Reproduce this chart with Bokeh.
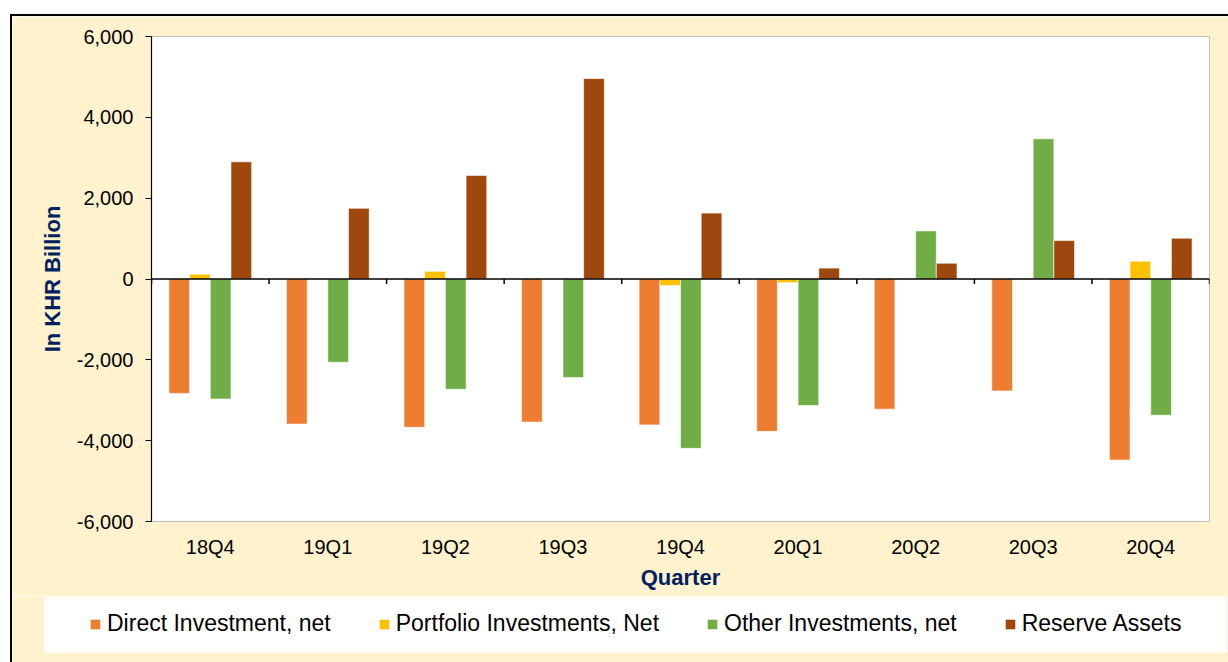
from bokeh.plotting import figure
from bokeh.layouts import column
from bokeh.models import Range1d, FixedTicker, Span, Legend, LegendItem, NumeralTickFormatter
from bokeh.embed import file_html
from bokeh.resources import INLINE

quarters = ["18Q4", "19Q1", "19Q2", "19Q3", "19Q4", "20Q1", "20Q2", "20Q3", "20Q4"]
direct = [-2830, -3590, -3670, -3540, -3610, -3770, -3220, -2770, -4480]
portfolio = [120, 20, 190, 0, -160, -90, 10, 10, 440]
other = [-2970, -2060, -2730, -2440, -4190, -3130, 1190, 3470, -3370]
reserve = [2900, 1750, 2560, 4960, 1630, 270, 390, 950, 1010]

series_names = ["Direct Investment, net", "Portfolio Investments, Net",
                "Other Investments, net", "Reserve Assets"]
series_values = [direct, portfolio, other, reserve]
colors = ["#ED7D31", "#FFC000", "#70AD47", "#9E480E"]

FONT = "Liberation Sans"
NAVY = "#002060"
BEIGE = "#FFF2CC"

p = figure(width=1216, height=580,
           x_range=Range1d(0, len(quarters)), y_range=Range1d(-6000, 6000),
           output_backend="svg", toolbar_location=None,
           min_border_left=139, min_border_right=19,
           min_border_top=20, min_border_bottom=75,
           background_fill_color="white", border_fill_color=BEIGE,
           outline_line_color="#BFBFBF", outline_line_width=1)
p.grid.visible = False
p.frame_align = False

bw = 0.176
offsets = [-1.5 * bw, -0.5 * bw, 0.5 * bw, 1.5 * bw]
for name, vals, col, off in zip(series_names, series_values, colors, offsets):
    xs = [i + 0.5 + off for i in range(len(quarters))]
    p.vbar(x=xs, top=vals, bottom=0, width=bw, fill_color=col,
           line_color="white", line_width=0.6)

# zero axis line with category boundary ticks
p.add_layout(Span(location=0, dimension="width", line_color="black", line_width=1.5))
tick_len = 12000 / 485 * 5
bounds = list(range(len(quarters) + 1))
p.segment(x0=bounds, x1=bounds, y0=[0] * len(bounds), y1=[-tick_len] * len(bounds),
          line_color="black", line_width=1.5)

# y axis
ya = p.yaxis[0]
ya.ticker = FixedTicker(ticks=[-6000, -4000, -2000, 0, 2000, 4000, 6000])
ya.formatter = NumeralTickFormatter(format="0,0")
ya.axis_line_color = "black"
ya.axis_line_width = 1.2
ya.major_tick_line_color = "black"
ya.major_tick_out = 6
ya.major_tick_in = 0
ya.minor_tick_line_color = None
ya.major_label_text_font = FONT
ya.major_label_text_font_size = "20px"
ya.major_label_text_color = "black"
ya.major_label_standoff = 12
ya.axis_label = "In KHR Billion"
ya.axis_label_text_font = FONT
ya.axis_label_text_font_size = "22px"
ya.axis_label_text_font_style = "bold"
ya.axis_label_text_color = NAVY
ya.axis_label_standoff = 9

# x axis (labels only at bottom)
xa = p.xaxis[0]
xa.ticker = FixedTicker(ticks=[i + 0.5 for i in range(len(quarters))])
xa.major_label_overrides = {i + 0.5: q for i, q in enumerate(quarters)}
xa.axis_line_color = None
xa.major_tick_line_color = None
xa.minor_tick_line_color = None
xa.major_tick_out = 0
xa.major_tick_in = 0
xa.major_label_text_font = FONT
xa.major_label_text_font_size = "20px"
xa.major_label_text_color = "black"
xa.major_label_standoff = 14
xa.axis_label = "Quarter"
xa.axis_label_text_font = FONT
xa.axis_label_text_font_size = "22px"
xa.axis_label_text_font_style = "bold"
xa.axis_label_text_color = NAVY
xa.axis_label_standoff = 4

# legend strip (separate figure so it can sit outside the plot frame)
lg = figure(width=1216, height=66, x_range=Range1d(0, 1), y_range=Range1d(0, 1),
            output_backend="svg", toolbar_location=None,
            x_axis_type=None, y_axis_type=None,
            min_border_left=32, min_border_right=2, min_border_top=1, min_border_bottom=10,
            background_fill_color="white", border_fill_color=BEIGE,
            outline_line_color=None)
lg.grid.visible = False
lg.frame_align = False
# legend-only renderers (zero-height, invisible)
dummies = [lg.vbar(x=[0.5], top=[0], bottom=[0], width=0.01, fill_color=c, line_color=None)
           for c in colors]
legend = Legend(items=[LegendItem(label=n, renderers=[r]) for n, r in zip(series_names, dummies)],
                orientation="horizontal", location=(45, 15), margin=0,
                glyph_width=12, glyph_height=12, label_standoff=6, spacing=47,
                padding=0, label_height=25,
                label_text_font=FONT, label_text_font_size="23px", label_text_color="black",
                background_fill_alpha=0, border_line_color=None)
lg.add_layout(legend, "center")

layout = column(p, lg, spacing=0)
layout.styles = {"border-left": "2px solid black", "border-top": "2px solid black",
                 "margin-top": "14px", "margin-left": "10px"}

open("out.html", "w").write(file_html(layout, INLINE))
